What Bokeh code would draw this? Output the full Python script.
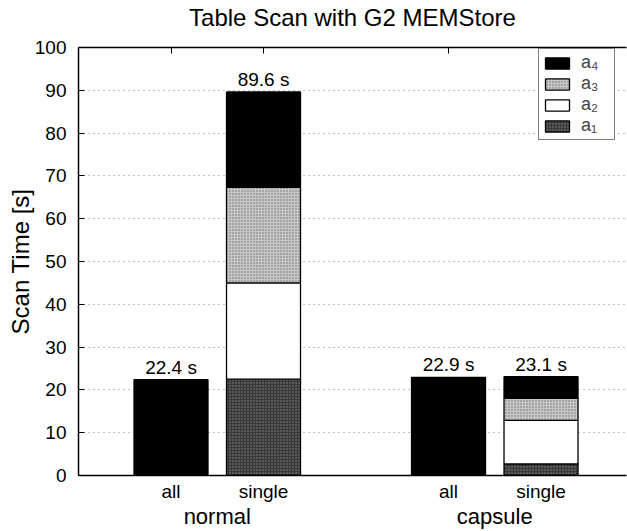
from bokeh.plotting import figure
from bokeh.models import (ColumnDataSource, LinearAxis, FixedTicker, Range1d,
                          Legend, LegendItem, LabelSet)
from bokeh.core.properties import value
from bokeh.transform import stack
from bokeh.embed import file_html
from bokeh.resources import INLINE

# ---- data ----
title_text = "Table Scan with G2 MEMStore"
groups = ["normal", "capsule"]
modes = ["all", "single"]
all_total = [22.4, 22.9]
a1 = [22.5, 2.7]
a2 = [22.5, 10.2]
a3 = [22.3, 5.1]
a4 = [22.3, 5.1]
single_total = [89.6, 23.1]
y_ticks = [0, 10, 20, 30, 40, 50, 60, 70, 80, 90, 100]

FONT = "Liberation Sans"

# positions: group i, mode j -> 1 + 3*i + j
x_all = [1 + 3 * i for i in range(len(groups))]
x_single = [2 + 3 * i for i in range(len(groups))]

p = figure(width=627, height=531, output_backend="svg", toolbar_location=None,
           x_range=Range1d(0, 5.924), y_range=Range1d(0, 100),
           x_axis_location=None, y_axis_location=None)
p.min_border_left = 78
p.min_border_right = 1
p.min_border_top = 46
p.min_border_bottom = 50
p.outline_line_color = None
p.background_fill_color = "white"
p.border_fill_color = "white"

# grid
p.xgrid.visible = False

# left axis
yax = LinearAxis(ticker=FixedTicker(ticks=y_ticks), axis_label="Scan Time [s]")
yax.major_tick_in = 6
yax.major_tick_out = 0
yax.minor_tick_line_color = None
yax.major_label_text_font = FONT
yax.major_label_text_font_size = "19px"
yax.major_label_text_color = "black"
yax.major_label_standoff = 12
yax.axis_label_text_font = FONT
yax.axis_label_text_font_size = "24px"
yax.axis_label_text_font_style = "normal"
yax.axis_label_text_color = "black"
yax.axis_label_standoff = -2
yax.axis_line_width = 1.5
yax.major_tick_line_width = 1
p.add_layout(yax, "left")

p.ygrid.ticker = FixedTicker(ticks=y_ticks[1:-1])
p.ygrid.grid_line_color = "#808080"
p.ygrid.grid_line_dash = "1 4"
p.ygrid.grid_line_width = 1

# bottom axis (mode labels)
xpos = []
xlab = {}
for i in range(len(groups)):
    for j, m in enumerate(modes):
        xx = 1 + 3 * i + j
        xpos.append(xx)
        xlab[xx] = m
xax = LinearAxis(ticker=FixedTicker(ticks=xpos), major_label_overrides=xlab)
xax.major_tick_line_color = None
xax.minor_tick_line_color = None
xax.major_label_text_font = FONT
xax.major_label_text_font_size = "19px"
xax.major_label_text_color = "black"
xax.major_label_standoff = -1
xax.axis_line_width = 1.5
p.add_layout(xax, "below")

# group labels (second axis below the mode labels)
gpos = [1.5 + 3 * i for i in range(len(groups))]
gax = LinearAxis(ticker=FixedTicker(ticks=gpos),
                 major_label_overrides={g: n for g, n in zip(gpos, groups)})
gax.axis_line_color = None
gax.major_tick_line_color = None
gax.minor_tick_line_color = None
gax.major_label_text_font = FONT
gax.major_label_text_font_size = "22px"
gax.major_label_text_color = "black"
gax.major_label_standoff = -7
p.add_layout(gax, "below")

# top axis (mirrored ticks) carrying the chart title
tax = LinearAxis(ticker=FixedTicker(ticks=xpos), axis_label=title_text)
tax.major_label_text_font_size = "0px"
tax.major_label_text_color = None
tax.major_tick_in = 6
tax.major_tick_out = 0
tax.minor_tick_line_color = None
tax.axis_line_width = 1.5
tax.major_label_standoff = 0
tax.axis_label_text_font = FONT
tax.axis_label_text_font_size = "24px"
tax.axis_label_text_font_style = "normal"
tax.axis_label_text_color = "black"
tax.axis_label_standoff = 17
p.add_layout(tax, "above")

# bars
src_all = ColumnDataSource(dict(x=x_all, top=all_total,
                                lab=[f"{v} s" for v in all_total]))
p.vbar(x="x", top="top", bottom=0, width=0.8, source=src_all,
       fill_color="black", line_color="black", line_width=1.3)

src = ColumnDataSource(dict(x=x_single, a1=a1, a2=a2, a3=a3, a4=a4,
                            total=single_total,
                            lab=[f"{v} s" for v in single_total]))
names = ["a1", "a2", "a3", "a4"]
styles = {
    "a1": dict(fill_color="#383838", hatch_pattern=".", hatch_color="#8a8a8a", hatch_scale=3, hatch_weight=1),
    "a2": dict(fill_color="white"),
    "a3": dict(fill_color="#c8c8c8", hatch_pattern=".", hatch_color="#6a6a6a", hatch_scale=3, hatch_weight=1),
    "a4": dict(fill_color="black"),
}
renderers = {}
for k, n in enumerate(names):
    r = p.vbar(x="x", bottom=stack(*names[:k]), top=stack(*names[:k + 1]),
               width=0.8, source=src, line_color="black", line_width=1.3,
               **styles[n])
    renderers[n] = r

for s, ycol in ((src_all, "top"), (src, "total")):
    p.add_layout(LabelSet(x="x", y=ycol, text="lab", source=s,
                          text_align="center", text_baseline="alphabetic",
                          y_offset=6, text_font=value(FONT),
                          text_font_size=value("19px"), text_color="black"))

sub = {"a1": "a\u2081", "a2": "a\u2082", "a3": "a\u2083", "a4": "a\u2084"}
items = [LegendItem(label=sub[n], renderers=[renderers[n]]) for n in reversed(names)]
legend = Legend(items=items, location=(460, 335))
legend.border_line_color = "black"
legend.border_line_width = 1.2
legend.label_text_font = FONT
legend.label_text_font_size = "18px"
legend.label_text_line_height = 1.0
legend.glyph_width = 30
legend.glyph_height = 14
legend.label_height = 15
legend.label_width = 30
legend.spacing = 0
legend.padding = 3
legend.margin = 0
legend.label_standoff = 9
legend.background_fill_alpha = 1
p.add_layout(legend, "center")

open("out.html", "w").write(file_html(p, INLINE))
